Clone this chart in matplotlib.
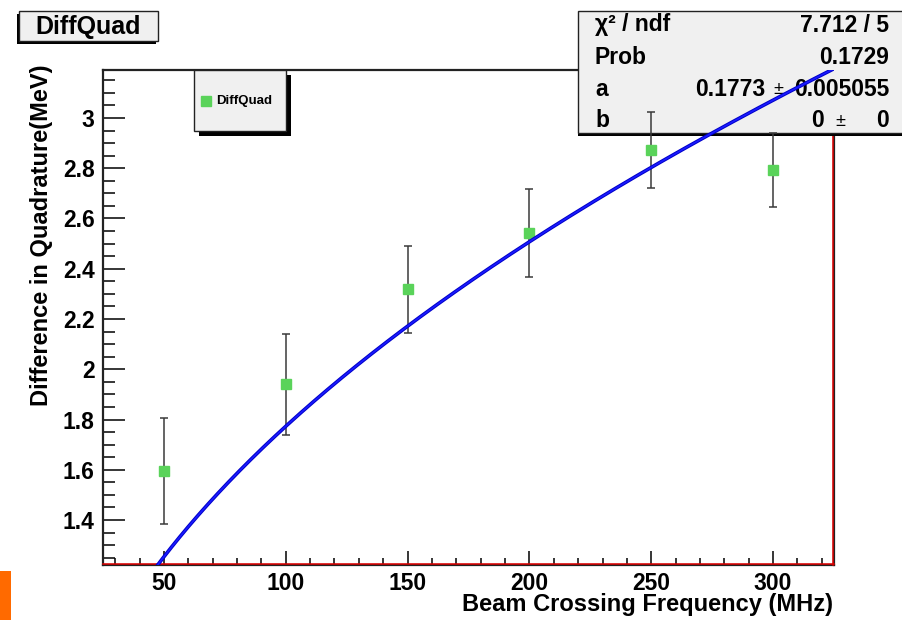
import numpy as np
import matplotlib
matplotlib.use("Agg")
import matplotlib.pyplot as plt
from matplotlib.patches import Rectangle
from matplotlib.ticker import MultipleLocator, FuncFormatter

plt.rcParams['font.family'] = ['Liberation Sans', 'DejaVu Sans']
plt.rcParams['font.weight'] = 'bold'

# data
freq = [50, 100, 150, 200, 250, 300]
diff_quad = [1.595, 1.940, 2.318, 2.542, 2.872, 2.793]
diff_err = [0.210, 0.200, 0.174, 0.175, 0.152, 0.147]

# fit: a*sqrt(x) + b
fit_a = 0.1773
fit_a_err = 0.005055
fit_b = 0.0
fit_b_err = 0.0
chi2_ndf = "7.712 / 5"
prob = "0.1729"

W, H = 902, 620
fig = plt.figure(figsize=(W / 100, H / 100), dpi=100)
fig.patch.set_facecolor('white')


def fx(x):
    return x / W


def fy(y):
    return 1 - y / H


ax = fig.add_axes([fx(103), fy(565), fx(834 - 103), (565 - 70) / H])
ax.set_xlim(25, 325)
ax.set_ylim(1.221, 3.191)

# fit curve
xf = np.linspace(25, 325, 600)
yf = fit_a * np.sqrt(xf) + fit_b
ax.plot(xf, yf, color='#0000c8', lw=2.6, zorder=6)
ax.plot(xf, yf, color='#1a1aff', lw=1.2, zorder=6)

ax.errorbar(freq, diff_quad, yerr=diff_err, fmt='none', ecolor='#3a3a3a',
            elinewidth=1.1, capsize=3, capthick=1.1, zorder=5)
ax.plot(freq, diff_quad, 's', color='#5ad35a', markersize=7.5, mec='#5ad35a', zorder=5.5)

# axes styling (ROOT like)
ax.xaxis.set_major_locator(MultipleLocator(50))
ax.xaxis.set_minor_locator(MultipleLocator(10))
ax.yaxis.set_major_locator(MultipleLocator(0.2))
ax.yaxis.set_minor_locator(MultipleLocator(0.05))
ax.yaxis.set_major_formatter(FuncFormatter(lambda v, p: f"{v:g}"))
ax.xaxis.set_major_formatter(FuncFormatter(lambda v, p: f"{v:g}"))
ax.tick_params(axis='x', which='major', direction='in', length=10, width=1.1, labelsize=16.5, pad=5)
ax.tick_params(axis='x', which='minor', direction='in', length=5, width=1.1)
ax.tick_params(axis='y', which='major', direction='in', length=16, width=1.1, labelsize=16.5, pad=6)
ax.tick_params(axis='y', which='minor', direction='in', length=8.5, width=1.1)
for lab in ax.get_xticklabels() + ax.get_yticklabels():
    lab.set_fontweight('bold')
for s in ax.spines.values():
    s.set_linewidth(1.6)
    s.set_color('#222222')
ax.plot([0, 1], [0.002, 0.002], transform=ax.transAxes, color='#e00000', lw=1.1,
        clip_on=False, zorder=2.6)
ax.plot([0.998, 0.998], [0, 1], transform=ax.transAxes, color='#e00000', lw=1.1,
        clip_on=False, zorder=2.6)

fig.text(fx(833), fy(605), "Beam Crossing Frequency (MHz)", ha='right', va='center',
         fontsize=17, fontweight='bold')
fig.text(fx(42), fy(64), "Difference in Quadrature(MeV)", rotation=90, ha='center',
         va='top', fontsize=17, fontweight='bold')


def box(x0, y0, x1, y1, sx, sy, z):
    ax.add_patch(Rectangle((fx(x0 + sx), fy(y1 + sy)), fx(x1 - x0), (y1 - y0) / H,
                           transform=fig.transFigure, facecolor='black', edgecolor='black',
                           lw=0, clip_on=False, zorder=z))
    ax.add_patch(Rectangle((fx(x0), fy(y1)), fx(x1 - x0), (y1 - y0) / H,
                           transform=fig.transFigure, facecolor='#f0f0f0', edgecolor='#222222',
                           lw=1.0, clip_on=False, zorder=z + 0.1))


# title box
box(19, 11, 158, 41, -2, 3, 3)
ax.text(fx(88), fy(27), "DiffQuad", transform=fig.transFigure, ha='center', va='center',
        fontsize=18, fontweight='bold', zorder=3.5)

# legend box
box(194, 70, 286, 131, 5, 5, 3)
ax.plot([fx(206)], [fy(101)], 's', color='#5ad35a', markersize=7.5, transform=fig.transFigure,
        clip_on=False, zorder=3.5)
ax.text(fx(216), fy(101), "DiffQuad", transform=fig.transFigure, ha='left', va='center',
        fontsize=9.5, fontweight='bold', zorder=3.5)

# stats box
box(578, 11, 910, 133, 0, 3, 3)
rows_y = [25, 57, 89, 120]
labels = ["\u03c7\u00b2 / ndf", "Prob", "a", "b"]
for y, lab in zip(rows_y, labels):
    ax.text(fx(595), fy(y), lab, transform=fig.transFigure, ha='left', va='center',
            fontsize=16.5, fontweight='bold', zorder=3.5)
ax.text(fx(889), fy(rows_y[0]), chi2_ndf, transform=fig.transFigure, ha='right', va='center',
        fontsize=16.5, fontweight='bold', zorder=3.5)
ax.text(fx(889), fy(rows_y[1]), prob, transform=fig.transFigure, ha='right', va='center',
        fontsize=16.5, fontweight='bold', zorder=3.5)
for y, val, err, vr, pm in [(rows_y[2], f"{fit_a:g}", f"{fit_a_err:g}", 765, 778),
                            (rows_y[3], f"{fit_b:g}", f"{fit_b_err:g}", 824, 840)]:
    ax.text(fx(vr), fy(y), val, transform=fig.transFigure, ha='right', va='center',
            fontsize=16.5, fontweight='bold', zorder=3.5)
    ax.text(fx(pm), fy(y + 1), "\u00b1", transform=fig.transFigure, ha='center', va='center',
            fontsize=13, fontweight='normal', zorder=3.5)
    ax.text(fx(889), fy(y), err, transform=fig.transFigure, ha='right', va='center',
            fontsize=16.5, fontweight='bold', zorder=3.5)

# orange marker at the bottom left corner
fig.patches.append(Rectangle((0, 0), fx(11), (620 - 571) / H, transform=fig.transFigure,
                             facecolor='#ff6a00', edgecolor='none', figure=fig))

fig.savefig("out.png", dpi=100)
